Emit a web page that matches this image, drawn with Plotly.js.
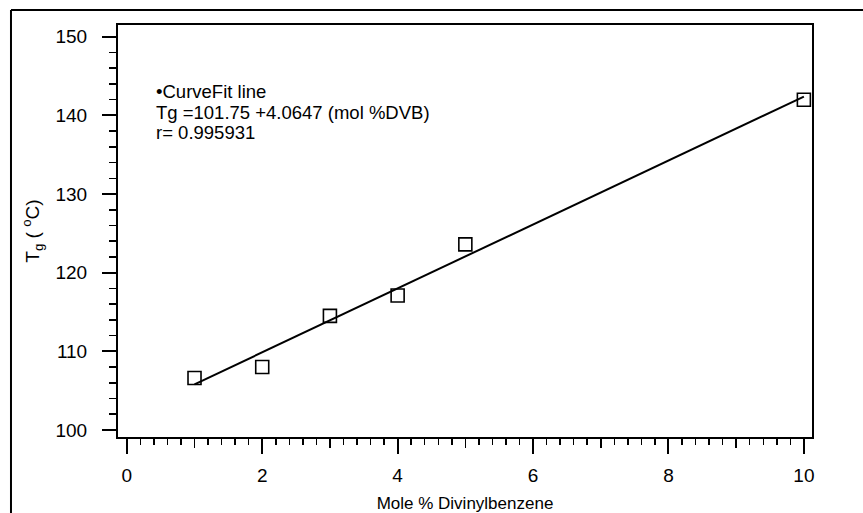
<!DOCTYPE html>
<html>
<head>
<meta charset="utf-8">
<script src="https://cdn.plot.ly/plotly-3.0.1.min.js"></script>
<style>html,body{margin:0;padding:0;background:#fff;}#chart{width:863px;height:513px;}</style>
</head>
<body>
<div id="chart"></div>
<script>
// Data
var molDVB = [1, 2, 3, 4, 5, 10];
var tg = [106.6, 108.0, 114.5, 117.1, 123.6, 142.0];
// Curve fit line endpoints (Tg = 101.75 + 4.0647 x)
var fitX = [1, 10];
var fitY = [105.8, 142.4];
var xTicks = [0, 2, 4, 6, 8, 10];
var xMidTicks = [1, 3, 5, 7, 9];
var yTicks = [100, 110, 120, 130, 140, 150];
var noteLines = ['•CurveFit line', 'Tg =101.75 +4.0647 (mol %DVB)', 'r= 0.995931'];

var FONT = 'Liberation Sans, Arial, sans-serif';
var xr = [-0.13, 10.12];
var yr = [99.1, 151.5];

var traces = [
  {x: fitX, y: fitY, type: 'scatter', mode: 'lines', xaxis: 'x2', yaxis: 'y',
   line: {color: '#000', width: 2}, hoverinfo: 'skip'},
  {x: molDVB, y: tg, type: 'scatter', mode: 'markers', xaxis: 'x', yaxis: 'y',
   marker: {symbol: 'square-open', size: 13, color: '#000', line: {width: 1.6, color: '#000'}}}
];

var annotations = noteLines.map(function (t, i) {
  return {xref: 'paper', yref: 'paper', x: 0.052, y: 0.868 - i * 0.0495,
    xanchor: 'left', yanchor: 'top', align: 'left', showarrow: false,
    text: t, font: {family: FONT, size: 18.5, color: '#000'}};
});

var shapes = [
  {type: 'line', xref: 'paper', yref: 'paper', x0: -0.1542, x1: 1.08, y0: 1.0364, y1: 1.0364, line: {color: '#000', width: 2}},
  {type: 'line', xref: 'paper', yref: 'paper', x0: -0.1542, x1: -0.1542, y0: 1.0364, y1: -0.2, line: {color: '#000', width: 2}}
];

var layout = {
  width: 863, height: 513,
  margin: {l: 118, r: 51, t: 25, b: 76},
  paper_bgcolor: '#fff', plot_bgcolor: '#fff',
  showlegend: false,
  font: {family: FONT, size: 16, color: '#000'},
  xaxis: {
    range: xr, tickmode: 'array', tickvals: xTicks, ticktext: xTicks.map(String),
    ticks: 'outside', ticklen: 15, tickwidth: 2, tickcolor: '#000',
    showline: true, linewidth: 2, linecolor: '#000', mirror: true,
    showgrid: false, zeroline: false, automargin: false,
    tickfont: {family: FONT, size: 19}, ticklabelstandoff: 5,
    minor: {dtick: 0.2, tick0: 0, ticks: 'outside', ticklen: 6, tickwidth: 1.5, tickcolor: '#000', showgrid: false},
    title: {text: 'Mole % Divinylbenzene', font: {family: FONT, size: 17}, standoff: 13}
  },
  xaxis2: {
    range: xr, overlaying: 'x', anchor: 'y', side: 'bottom',
    tickmode: 'array', tickvals: xMidTicks, showticklabels: false,
    ticks: 'outside', ticklen: 10, tickwidth: 1.5, tickcolor: '#000',
    showline: false, showgrid: false, zeroline: false
  },
  yaxis: {
    range: yr, tickmode: 'array', tickvals: yTicks, ticktext: yTicks.map(String),
    ticks: 'outside', ticklen: 14, tickwidth: 2, tickcolor: '#000',
    showline: true, linewidth: 2, linecolor: '#000', mirror: true,
    showgrid: false, zeroline: false, automargin: false,
    tickfont: {family: FONT, size: 19}, ticklabelstandoff: 11,
    minor: {dtick: 2, tick0: 100, ticks: 'outside', ticklen: 7, tickwidth: 1.5, tickcolor: '#000', showgrid: false},
    title: {text: 'T<sub>g</sub> ( <sup>o</sup>C)', font: {family: FONT, size: 19}, standoff: 11}
  },
  annotations: annotations,
  shapes: shapes
};

Plotly.newPlot('chart', traces, layout, {displayModeBar: false, staticPlot: true});
</script>
</body>
</html>
